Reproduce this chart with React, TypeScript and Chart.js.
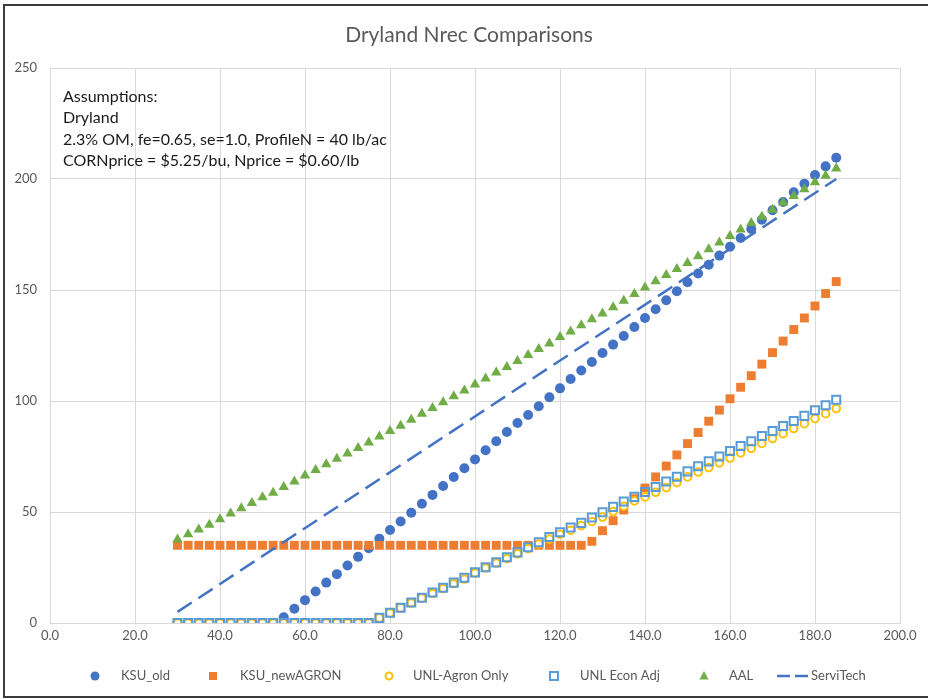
import React, { useEffect, useRef } from "react";
import { Chart, registerables } from "chart.js";

Chart.register(...registerables);

const TITLE = "Dryland Nrec Comparisons";
const NOTES = [
  "Assumptions:",
  "Dryland",
  "2.3% OM, fe=0.65, se=1.0, ProfileN = 40 lb/ac",
  "CORNprice = $5.25/bu, Nprice = $0.60/lb",
];
const SERIES_NAMES = ["KSU_old", "KSU_newAGRON", "UNL-Agron Only", "UNL Econ Adj", "AAL", "ServiTech"];

const X_TICKS = [0, 20, 40, 60, 80, 100, 120, 140, 160, 180, 200];
const Y_TICKS = [0, 50, 100, 150, 200, 250];

const YIELD = [
  30, 32.5, 35, 37.5, 40, 42.5, 45, 47.5, 50, 52.5,
  55, 57.5, 60, 62.5, 65, 67.5, 70, 72.5, 75, 77.5,
  80, 82.5, 85, 87.5, 90, 92.5, 95, 97.5, 100, 102.5,
  105, 107.5, 110, 112.5, 115, 117.5, 120, 122.5, 125, 127.5,
  130, 132.5, 135, 137.5, 140, 142.5, 145, 147.5, 150, 152.5,
  155, 157.5, 160, 162.5, 165, 167.5, 170, 172.5, 175, 177.5,
  180, 182.5, 185,
];

const KSU_OLD = [
  0, 0, 0, 0, 0, 0, 0, 0, 0, 0,
  2.6, 6.4, 10.3, 14.2, 18.2, 22.0, 25.9, 29.8, 33.7, 38.0,
  41.9, 45.7, 49.7, 53.7, 57.7, 61.7, 65.8, 69.7, 73.7, 77.8,
  81.9, 86.0, 90.1, 93.7, 97.6, 101.7, 105.7, 109.9, 113.7, 117.6,
  121.6, 125.4, 129.3, 133.3, 137.4, 141.3, 145.4, 149.4, 153.5, 157.4,
  161.4, 165.5, 169.5, 173.4, 177.5, 181.7, 185.9, 189.6, 194.0, 197.9,
  201.8, 205.7, 209.6,
];

const KSU_NEW = [
  35, 35, 35, 35, 35, 35, 35, 35, 35, 35,
  35, 35, 35, 35, 35, 35, 35, 35, 35, 35,
  35, 35, 35, 35, 35, 35, 35, 35, 35, 35,
  35, 35, 35, 35, 35, 35, 35, 35, 35, 36.8,
  41.6, 46.1, 50.9, 56.0, 60.8, 65.8, 70.7, 75.7, 80.8, 85.8,
  90.9, 95.9, 101.0, 106.2, 111.4, 116.6, 121.8, 127.0, 132.2, 137.4,
  142.8, 148.4, 153.8,
];

const UNL_AGRON = [
  0, 0, 0, 0, 0, 0, 0, 0, 0, 0,
  0, 0, 0, 0, 0, 0, 0, 0, 0, 2.3,
  4.5, 6.8, 9.0, 11.2, 13.3, 15.5, 17.7, 19.8, 22.5, 24.8,
  27.0, 29.0, 31.2, 33.5, 35.6, 37.8, 40.0, 41.8, 43.9, 45.7,
  47.7, 50.2, 52.6, 55.0, 56.8, 58.9, 61.0, 63.2, 65.8, 68.0,
  70.0, 72.1, 74.3, 76.6, 78.7, 80.9, 83.1, 85.3, 87.6, 89.8,
  92.1, 94.3, 96.6,
];

const UNL_ECON = [
  0, 0, 0, 0, 0, 0, 0, 0, 0, 0,
  0, 0, 0, 0, 0, 0, 0, 0, 0, 2.3,
  4.6, 6.9, 9.2, 11.4, 13.7, 15.9, 18.2, 20.4, 22.8, 25.1,
  27.3, 29.6, 31.8, 34.1, 36.4, 38.7, 40.9, 43.0, 45.1, 47.5,
  49.9, 52.3, 54.7, 56.8, 59.0, 61.3, 63.7, 65.9, 68.3, 70.6,
  72.8, 75.0, 77.5, 79.7, 81.9, 84.2, 86.5, 88.7, 91.0, 93.3,
  95.8, 98.1, 100.6,
];

const AAL = [
  37.6, 40.0, 42.1, 44.3, 46.7, 49.3, 51.7, 54.1, 56.6, 58.7,
  61.3, 63.7, 66.4, 68.9, 71.5, 74.0, 76.4, 78.8, 81.3, 84.0,
  86.5, 88.9, 91.6, 94.3, 96.8, 99.4, 102.1, 104.7, 107.4, 110.1,
  112.8, 115.3, 118.0, 120.7, 123.4, 125.9, 128.8, 131.3, 134.1, 136.8,
  139.4, 142.2, 145.2, 148.2, 151.1, 153.9, 156.8, 159.5, 162.2, 165.2,
  168.3, 171.4, 174.3, 177.2, 180.2, 183.0, 186.2, 189.4, 192.3, 195.4,
  198.5, 201.5, 204.7,
];

const SERVITECH_X = [30, 185];
const SERVITECH_Y = [5, 200];

const BLUE = "#4472C4";
const ORANGE = "#ED7D31";
const GOLD = "#FFC000";
const LIGHTBLUE = "#5B9BD5";
const GREEN = "#70AD47";
const TEXT_GRAY = "#595959";
const GRID = "#d9d9d9";
const FONT = "Lato, 'Open Sans', sans-serif";

const pts = (xs: number[], ys: number[]) => xs.map((x, i) => ({ x, y: ys[i] }));

const decoPlugin = {
  id: "deco",
  beforeDraw(chart: any) {
    const ctx = chart.ctx;
    ctx.save();
    ctx.fillStyle = "#ffffff";
    ctx.fillRect(0, 0, chart.width, chart.height);
    ctx.restore();
  },
  afterDraw(chart: any) {
    const ctx: CanvasRenderingContext2D = chart.ctx;
    ctx.save();
    // outer frame
    ctx.strokeStyle = "#3c3c3c";
    ctx.lineWidth = 2;
    ctx.beginPath();
    ctx.moveTo(chart.width, 5);
    ctx.lineTo(4, 5);
    ctx.lineTo(4, 697);
    ctx.lineTo(chart.width, 697);
    ctx.stroke();

    // title
    ctx.fillStyle = TEXT_GRAY;
    ctx.font = `21px ${FONT}`;
    ctx.textAlign = "center";
    ctx.textBaseline = "alphabetic";
    ctx.fillText(TITLE, 469, 42);

    // assumptions text
    ctx.fillStyle = "#1a1a1a";
    ctx.font = `16px ${FONT}`;
    ctx.textAlign = "left";
    NOTES.forEach((t, i) => ctx.fillText(t, 63, 102 + i * 21.4));

    // legend
    const ly = 676;
    const markerX = [95, 213, 389, 554, 704, 792];
    const textX = [121, 240, 413, 580, 729, 811];
    ctx.font = `13px ${FONT}`;
    ctx.textBaseline = "middle";
    SERIES_NAMES.forEach((name, i) => {
      const mx = markerX[i];
      ctx.save();
      if (i === 0) {
        ctx.fillStyle = BLUE;
        ctx.beginPath();
        ctx.arc(mx, ly, 4.5, 0, Math.PI * 2);
        ctx.fill();
      } else if (i === 1) {
        ctx.fillStyle = ORANGE;
        ctx.fillRect(mx - 4, ly - 4, 8, 8);
      } else if (i === 2) {
        ctx.strokeStyle = GOLD;
        ctx.lineWidth = 2;
        ctx.beginPath();
        ctx.arc(mx, ly, 3.5, 0, Math.PI * 2);
        ctx.stroke();
      } else if (i === 3) {
        ctx.strokeStyle = LIGHTBLUE;
        ctx.lineWidth = 2;
        ctx.strokeRect(mx - 4, ly - 4, 8, 8);
      } else if (i === 4) {
        ctx.fillStyle = GREEN;
        ctx.beginPath();
        ctx.moveTo(mx, ly - 5);
        ctx.lineTo(mx + 4.5, ly + 3.5);
        ctx.lineTo(mx - 4.5, ly + 3.5);
        ctx.closePath();
        ctx.fill();
      } else {
        ctx.strokeStyle = BLUE;
        ctx.lineWidth = 2.5;
        ctx.setLineDash([13, 5]);
        ctx.beginPath();
        ctx.moveTo(mx - 15, ly);
        ctx.lineTo(mx + 16, ly);
        ctx.stroke();
      }
      ctx.restore();
      ctx.fillStyle = TEXT_GRAY;
      ctx.textAlign = "left";
      ctx.fillText(name, textX[i], ly);
    });
    ctx.restore();
  },
};

export default function App() {
  const ref = useRef<HTMLCanvasElement>(null);

  useEffect(() => {
    document.body.style.margin = "0";
    let chart: Chart | null = null;
    let cancelled = false;

    const build = () => {
      if (cancelled || !ref.current) return;
      chart = new Chart(ref.current, {
        type: "scatter",
        data: {
          datasets: [
            {
              label: SERIES_NAMES[0],
              data: pts(YIELD, KSU_OLD),
              pointStyle: "circle",
              pointRadius: 5,
              pointBackgroundColor: BLUE,
              pointBorderColor: BLUE,
              pointBorderWidth: 0,
              showLine: false,
              order: 5,
            },
            {
              label: SERIES_NAMES[1],
              data: pts(YIELD, KSU_NEW),
              pointStyle: "rect",
              pointRadius: 6.3,
              pointBackgroundColor: ORANGE,
              pointBorderColor: ORANGE,
              pointBorderWidth: 0,
              showLine: false,
              order: 4,
            },
            {
              label: SERIES_NAMES[2],
              data: pts(YIELD, UNL_AGRON),
              pointStyle: "circle",
              pointRadius: 3.8,
              pointBackgroundColor: "#ffffff",
              pointBorderColor: GOLD,
              pointBorderWidth: 2,
              showLine: false,
              order: 3,
            },
            {
              label: SERIES_NAMES[3],
              data: pts(YIELD, UNL_ECON),
              pointStyle: "rect",
              pointRadius: 5.7,
              pointBackgroundColor: "rgba(0,0,0,0)",
              pointBorderColor: LIGHTBLUE,
              pointBorderWidth: 2,
              showLine: false,
              order: 2,
            },
            {
              label: SERIES_NAMES[4],
              data: pts(YIELD, AAL),
              pointStyle: "triangle",
              pointRadius: 6,
              pointBackgroundColor: GREEN,
              pointBorderColor: GREEN,
              pointBorderWidth: 0,
              showLine: false,
              order: 1,
            },
            {
              label: SERIES_NAMES[5],
              data: pts(SERVITECH_X, SERVITECH_Y),
              pointRadius: 0,
              showLine: true,
              borderColor: BLUE,
              borderWidth: 2.5,
              borderDash: [17, 8],
              order: 0,
            },
          ],
        },
        options: {
          animation: false,
          responsive: false,
          events: [],
          layout: { padding: { left: 0, right: 28, top: 68, bottom: 46 } },
          plugins: {
            legend: { display: false },
            title: { display: false },
            tooltip: { enabled: false },
          },
          scales: {
            x: {
              type: "linear",
              min: X_TICKS[0],
              max: X_TICKS[X_TICKS.length - 1],
              afterBuildTicks: (s: any) => {
                s.ticks = X_TICKS.map((v) => ({ value: v }));
              },
              afterFit: (s: any) => {
                s.height = 30;
              },
              ticks: {
                autoSkip: false,
                maxRotation: 0,
                padding: 5,
                color: TEXT_GRAY,
                font: { family: FONT, size: 13 },
                callback: (v: any) => Number(v).toFixed(1),
              },
              grid: { color: GRID, lineWidth: 1, drawTicks: false },
              border: { color: GRID, width: 1 },
            },
            y: {
              type: "linear",
              min: Y_TICKS[0],
              max: Y_TICKS[Y_TICKS.length - 1],
              afterBuildTicks: (s: any) => {
                s.ticks = Y_TICKS.map((v) => ({ value: v }));
              },
              afterFit: (s: any) => {
                s.width = 50;
              },
              ticks: {
                padding: 13,
                color: TEXT_GRAY,
                font: { family: FONT, size: 13 },
                callback: (v: any) => String(v),
              },
              grid: { color: GRID, lineWidth: 1, drawTicks: false },
              border: { color: GRID, width: 1 },
            },
          },
        },
        plugins: [decoPlugin],
      } as any);
    };

    const fontsReady = (document as any).fonts
      ? Promise.all([
          (document as any).fonts.load(`13px Lato`),
          (document as any).fonts.load(`21px Lato`),
        ])
      : Promise.resolve();
    fontsReady.then(build, build);

    return () => {
      cancelled = true;
      if (chart) chart.destroy();
    };
  }, []);

  return (
    <div style={{ position: "relative", width: 928, height: 699 }}>
      <canvas ref={ref} width={928} height={699} style={{ display: "block" }} />
    </div>
  );
}
